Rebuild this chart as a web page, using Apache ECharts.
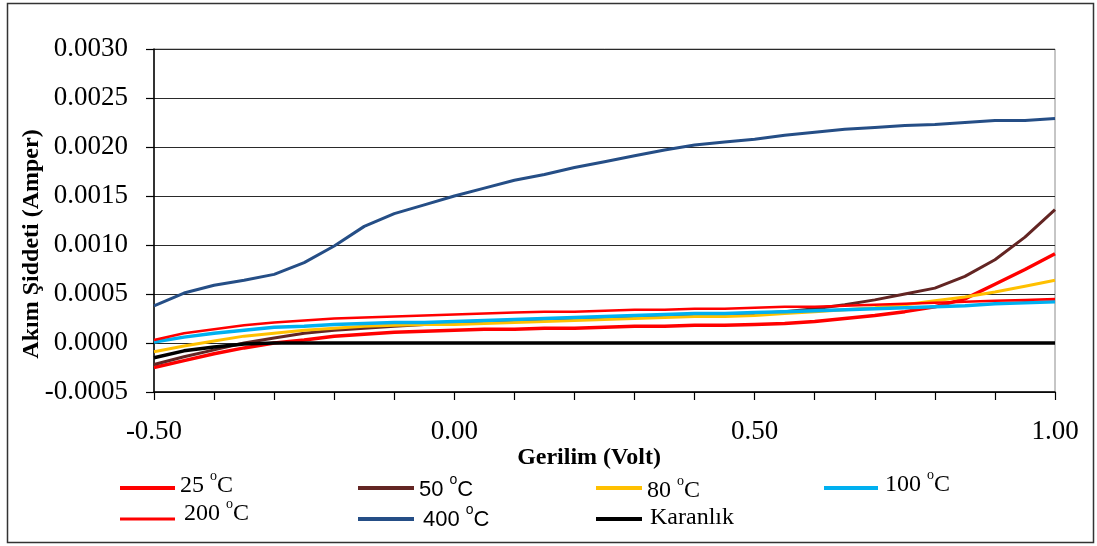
<!DOCTYPE html>
<html>
<head>
<meta charset="utf-8">
<script src="https://cdn.jsdelivr.net/npm/echarts@6/dist/echarts.min.js"></script>
<style>
  html, body { margin: 0; padding: 0; background: #fff; }
  #chart { width: 1097px; height: 546px; }
</style>
</head>
<body>
<div id="chart"></div>
<script>
// Voltage sweep (V) shared by every measurement
const voltage = [-0.50, -0.45, -0.40, -0.35, -0.30, -0.25, -0.20, -0.15, -0.10, -0.05,
  0.00, 0.05, 0.10, 0.15, 0.20, 0.25, 0.30, 0.35, 0.40, 0.45,
  0.50, 0.55, 0.60, 0.65, 0.70, 0.75, 0.80, 0.85, 0.90, 0.95, 1.00];

// Current (A) for each annealing temperature and in the dark
const current25 = [-0.00025, -0.00018, -0.00011, -0.00005, 0.00000, 0.00003, 0.00007, 0.00009, 0.00011, 0.00012,
  0.00013, 0.00014, 0.00014, 0.00015, 0.00015, 0.00016, 0.00017, 0.00017, 0.00018, 0.00018,
  0.00019, 0.00020, 0.00022, 0.00025, 0.00028, 0.00032, 0.00037, 0.00045, 0.00060, 0.00075, 0.00091];
const current50 = [-0.00022, -0.00014, -0.00007, 0.00000, 0.00005, 0.00010, 0.00013, 0.00015, 0.00017, 0.00019,
  0.00020, 0.00021, 0.00022, 0.00023, 0.00024, 0.00025, 0.00026, 0.00027, 0.00028, 0.00029,
  0.00030, 0.00032, 0.00035, 0.00039, 0.00044, 0.00050, 0.00056, 0.00068, 0.00085, 0.00108, 0.00136];
const current80 = [-0.00009, -0.00003, 0.00002, 0.00007, 0.00010, 0.00013, 0.00015, 0.00017, 0.00018, 0.00019,
  0.00019, 0.00020, 0.00021, 0.00022, 0.00023, 0.00024, 0.00025, 0.00026, 0.00027, 0.00027,
  0.00028, 0.00030, 0.00032, 0.00034, 0.00036, 0.00039, 0.00043, 0.00047, 0.00052, 0.00058, 0.00064];
const current100 = [0.00001, 0.00006, 0.00010, 0.00013, 0.00016, 0.00017, 0.00019, 0.00020, 0.00021, 0.00021,
  0.00022, 0.00023, 0.00024, 0.00025, 0.00026, 0.00027, 0.00028, 0.00029, 0.00030, 0.00030,
  0.00031, 0.00032, 0.00033, 0.00034, 0.00035, 0.00036, 0.00037, 0.00038, 0.00040, 0.00041, 0.00042];
const current200 = [0.00003, 0.00010, 0.00014, 0.00018, 0.00021, 0.00023, 0.00025, 0.00026, 0.00027, 0.00028,
  0.00029, 0.00030, 0.00031, 0.00032, 0.00032, 0.00033, 0.00034, 0.00034, 0.00035, 0.00035,
  0.00036, 0.00037, 0.00037, 0.00038, 0.00039, 0.00040, 0.00041, 0.00042, 0.00043, 0.00044, 0.00045];
const current400 = [0.00038, 0.00051, 0.00059, 0.00064, 0.00070, 0.00082, 0.00099, 0.00119, 0.00132, 0.00141,
  0.00150, 0.00158, 0.00166, 0.00172, 0.00179, 0.00185, 0.00191, 0.00197, 0.00202, 0.00205,
  0.00208, 0.00212, 0.00215, 0.00218, 0.00220, 0.00222, 0.00223, 0.00225, 0.00227, 0.00227, 0.00229];
const currentDark = [-0.00015, -0.00008, -0.00004, -0.00001, 0.00000, 0.00000, 0.00000, 0.00000, 0.00000, 0.00000,
  0.00000, 0.00000, 0.00000, 0.00000, 0.00000, 0.00000, 0.00000, 0.00000, 0.00000, 0.00000,
  0.00000, 0.00000, 0.00000, 0.00000, 0.00000, 0.00000, 0.00000, 0.00000, 0.00000, 0.00000, 0.00000];

const seriesNames = ['25 °C', '50 °C', '80 °C', '100 °C', '200 °C', '400 °C', 'Karanlık'];
const xTitle = 'Gerilim (Volt)';
const yTitle = 'Akım Şiddeti (Amper)';

const SERIF = '"Liberation Serif", "Times New Roman", serif';
const SANS = '"Liberation Sans", Arial, sans-serif';

const curves = [current25, current50, current80, current100, current200, current400, currentDark];
const colors = ['#FF0000', '#632523', '#FFC000', '#00B0F0', '#FF0000', '#254E86', '#000000'];
const widths = [3.5, 3, 3, 3.5, 2.5, 3, 3.5];

const series = curves.map((arr, i) => ({
  name: seriesNames[i],
  type: 'line',
  data: voltage.map((v, k) => [v, arr[k]]),
  showSymbol: false,
  symbol: 'none',
  lineStyle: { color: colors[i], width: widths[i], join: 'round' },
  itemStyle: { color: colors[i] },
  z: 2 + i
}));

// Legend entry text: number, raised "o" and "C"
function richLabel(name, family, size) {
  const n = { fontFamily: family, fontSize: size, lineHeight: 24, color: '#000' };
  if (name.indexOf('°C') < 0) return { sup: false, formatter: '{n|' + name + '}', rich: { n } };
  const num = name.replace(' °C', '');
  return {
    sup: true,
    formatter: '{n|' + num + ' }{s|o}{n|C}',
    rich: {
      n,
      s: { fontFamily: family, fontSize: 14, height: 4, lineHeight: 1, verticalAlign: 'top', color: '#000' }
    }
  };
}

// one legend block per entry, laid out in two rows under the axis
// y: centre of the colour bar, pad: shifts the label against the bar
const legendSpec = [
  { left: 120, y: 488, w: 55, family: SERIF, size: 24, pad: [0, 0, 4, 0] },
  { left: 358, y: 488, w: 56, family: SANS, size: 22, pad: [4, 0, 0, 0] },
  { left: 596, y: 488, w: 46, family: SERIF, size: 24, pad: [6, 0, 0, 0] },
  { left: 824, y: 488, w: 54, family: SERIF, size: 24, pad: [0, 0, 6, 2] },
  { left: 120, y: 519, w: 55, family: SERIF, size: 24, pad: [0, 0, 10, 4] },
  { left: 358, y: 519, w: 56, family: SANS, size: 22, pad: [2, 0, 0, 4] },
  { left: 596, y: 519, w: 46, family: SERIF, size: 24, pad: [0, 0, 3, 3] }
];

const legends = legendSpec.map((s, i) => {
  const lab = richLabel(seriesNames[i], s.family, s.size);
  // the legend box starts at the top of the highest glyph run
  const top = s.y + (s.pad[0] - s.pad[2]) / 2 - (lab.sup ? 17 : 12);
  return {
    data: [seriesNames[i]],
    left: s.left,
    top: top,
    padding: 0,
    icon: 'rect',
    itemWidth: s.w,
    itemHeight: i === 4 ? 3 : 4,
    selectedMode: false,
    formatter: () => lab.formatter,
    textStyle: { padding: s.pad, rich: lab.rich, color: '#000' }
  };
});

const chart = echarts.init(document.getElementById('chart'), null, { renderer: 'canvas' });
chart.setOption({
  animation: false,
  backgroundColor: '#fff',
  legend: legends,
  grid: { left: 154, top: 49, width: 901, height: 343, show: true, borderColor: '#8c8c8c', borderWidth: 1, containLabel: false },
  xAxis: {
    type: 'value', min: -0.5, max: 1.0, interval: 0.1,
    axisLine: { onZero: false, lineStyle: { color: '#000', width: 1.5 } },
    axisTick: { length: 8, lineStyle: { color: '#000', width: 1.2 } },
    axisLabel: {
      margin: 26, color: '#000', fontFamily: SERIF, fontSize: 27,
      formatter: v => {
        const h = v * 2;
        if (Math.abs(h - Math.round(h)) > 1e-6) return '';
        if (Math.abs(v) < 1e-9) return '0.00';
        return v.toFixed(2);
      }
    },
    splitLine: { show: false }
  },
  yAxis: {
    type: 'value', min: -0.0005, max: 0.003, interval: 0.0005,
    axisLine: { show: true, onZero: false, lineStyle: { color: '#000', width: 1.5 } },
    axisTick: { show: true, length: 8, lineStyle: { color: '#000', width: 1.2 } },
    axisLabel: {
      margin: 26, color: '#000', fontFamily: SERIF, fontSize: 27,
      formatter: v => (Math.abs(v) < 1e-12 ? 0 : v).toFixed(4)
    },
    splitLine: { lineStyle: { color: '#2a2a2a', width: 1.2 } }
  },
  series: series,
  graphic: [
    { type: 'rect', shape: { x: 7.5, y: 3.5, width: 1086, height: 539 }, style: { fill: 'none', stroke: '#333', lineWidth: 1.5 }, z: -1, silent: true },
    { type: 'text', x: 589, y: 458, style: { text: xTitle, font: 'bold 24px ' + SERIF, fill: '#000', align: 'center', verticalAlign: 'middle', textAlign: 'center', textVerticalAlign: 'middle' } },
    { type: 'text', x: 32, y: 244, rotation: Math.PI / 2, style: { text: yTitle, font: 'bold 24px ' + SERIF, fill: '#000', align: 'center', verticalAlign: 'middle', textAlign: 'center', textVerticalAlign: 'middle' } }
  ]
});
</script>
</body>
</html>
